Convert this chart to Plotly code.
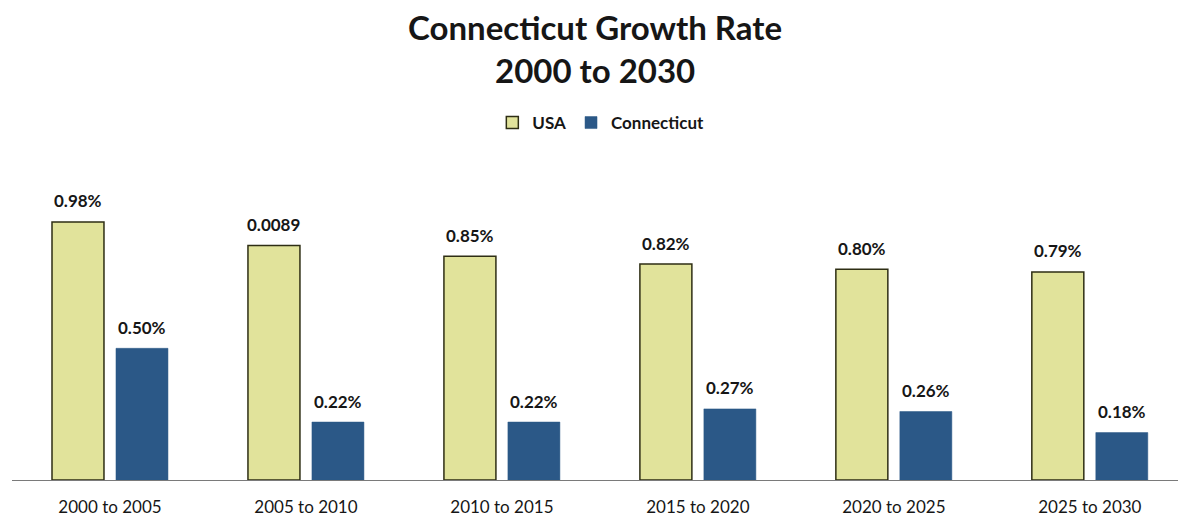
import plotly.graph_objects as go

# Growth rate per five-year period (fractions)
periods = ["2000 to 2005", "2005 to 2010", "2010 to 2015",
           "2015 to 2020", "2020 to 2025", "2025 to 2030"]
usa = [0.0098, 0.0089, 0.0085, 0.0082, 0.0080, 0.0079]
connecticut = [0.0050, 0.0022, 0.0022, 0.0027, 0.0026, 0.0018]
usa_labels = ["0.98%", "0.0089", "0.85%", "0.82%", "0.80%", "0.79%"]
ct_labels = ["0.50%", "0.22%", "0.22%", "0.27%", "0.26%", "0.18%"]

FONT = "Lato, 'Open Sans', sans-serif"
USA_FILL = "#E1E39B"
CT_FILL = "#2B5887"
INK = "#161616"

fig = go.Figure()
fig.add_trace(go.Bar(
    name="<b>USA</b>", x=periods, y=usa,
    marker=dict(color=USA_FILL, line=dict(color="#2E2E14", width=1.5)),
    text=usa_labels, textposition="none",
))
fig.add_trace(go.Bar(
    name="<b>Connecticut</b>", x=periods, y=connecticut,
    marker=dict(color=CT_FILL, line=dict(color=CT_FILL, width=0.5)),
    text=ct_labels, textposition="none",
))

# Value labels above each bar
for i, p in enumerate(periods):
    for vals, labs, off in ((usa, usa_labels, -1), (connecticut, ct_labels, 1)):
        fig.add_annotation(
            x=p, y=vals[i], xref="x", yref="y",
            text=f"<b>{labs[i]}</b>", showarrow=False,
            xshift=off * 32, yshift=21,
            font=dict(family=FONT, size=17, color=INK),
        )

# Two-line title
for txt, ypix in (("Connecticut Growth Rate", 27), ("2000 to 2030", 70)):
    fig.add_annotation(
        x=0.5, xref="paper", xanchor="center",
        y=1 + (170 - ypix) / 310, yref="paper", yanchor="middle",
        text=f"<b>{txt}</b>", showarrow=False,
        font=dict(family=FONT, size=33, color=INK),
    )

fig.update_layout(
    width=1178, height=518,
    margin=dict(l=12, r=0, t=170, b=38),
    paper_bgcolor="white", plot_bgcolor="white",
    barmode="group", bargap=0.347, bargroupgap=0.1875,
    showlegend=True,
    legend=dict(
        orientation="h", x=0.505, xanchor="center",
        y=1 + (170 - 123) / 310, yanchor="middle",
        font=dict(family=FONT, size=17, color=INK),
        itemwidth=30, traceorder="normal",
    ),
    font=dict(family=FONT, color=INK),
)
fig.update_xaxes(
    range=[-0.5, 5.45], showline=True, linecolor="#7a7a7a", linewidth=1,
    ticks="outside", ticklen=12, tickcolor="rgba(0,0,0,0)",
    tickfont=dict(family=FONT, size=17, color=INK),
    showgrid=False, zeroline=False,
)
fig.update_yaxes(
    range=[0, 0.01177], visible=False, showgrid=False, zeroline=False,
)

fig.write_html("out.html")
